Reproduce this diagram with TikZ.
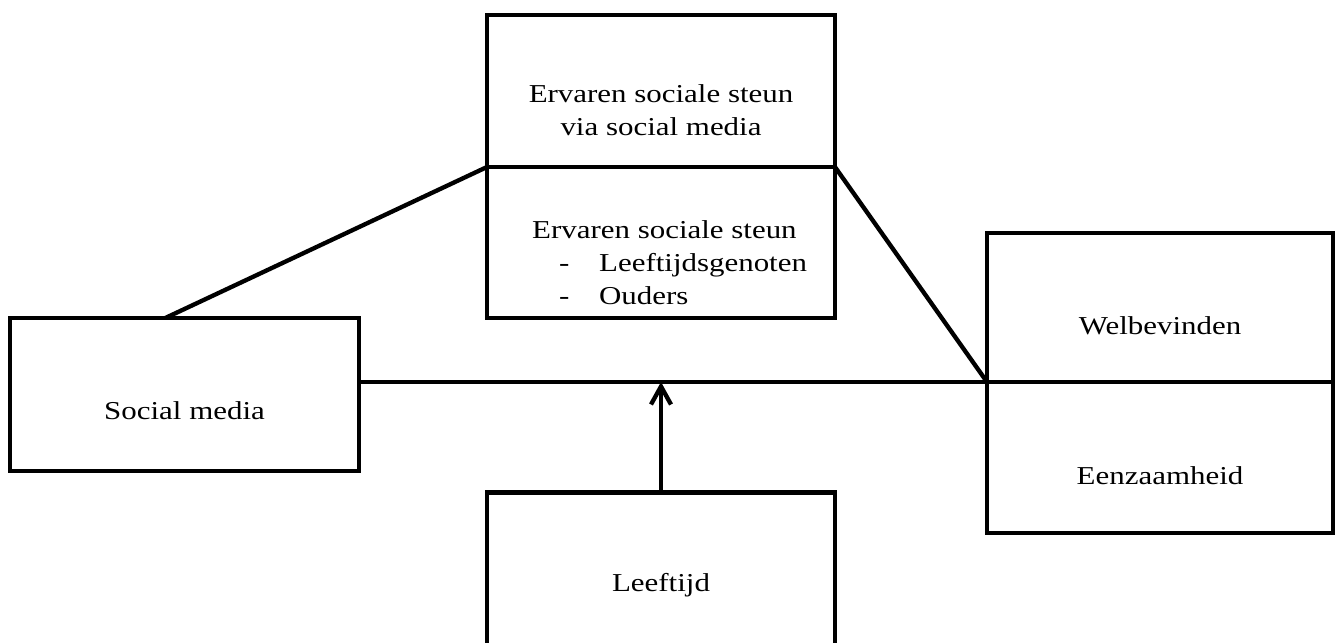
\documentclass[tikz,border=0pt]{standalone}
\usepackage{fontspec}
\setmainfont{Liberation Serif}[FakeStretch=1.2]
\usetikzlibrary{arrows.meta,positioning,calc}

\tikzset{
  vak/.style={draw,rectangle,outer sep=0pt,minimum width=104.4mm,minimum height=45.3mm},
  tekst/.style={font=\fontsize{22}{28.2}\selectfont,inner sep=0pt,yshift=-5.4mm}
}

\begin{document}
\begin{tikzpicture}[x=0.3mm,y=-0.3mm,line width=3.7pt,>={Straight Barb[length=5.4mm,width=6mm]}]
\useasboundingbox (0,0) rectangle (1341,642);
% boxes
\node (ssm) [vak,minimum height=45.6mm] at (661,91) {};
\node (ses) [vak,below=0pt of ssm] {};
\node (sm) [vak,minimum width=104.7mm,minimum height=45.9mm] at (184.5,394.5) {};
\node (wel) [vak,minimum width=103.8mm,minimum height=44.7mm] at (1160,307.5) {};
\node (een) [vak,minimum width=103.8mm,below=0pt of wel] {};
\node (lft) [vak,minimum height=47.1mm] at (661,571) {};
% texts
\node (tssm) [tekst,align=center,yshift=-0.3mm] at (ssm.center) {Ervaren sociale steun\\via social media};
\node (tses) [tekst,align=left,anchor=west,xshift=12.9mm,yshift=-0.6mm] at (ses.west)
  {Ervaren sociale steun\\\hspace*{8.1mm}\makebox[12mm][l]{-}Leeftijdsgenoten\\\hspace*{8.1mm}\makebox[12mm][l]{-}Ouders};
\node (tsm) [tekst,yshift=0.6mm] at (sm.center) {Social media};
\node (twel) [tekst] at (wel.center) {Welbevinden};
\node (teen) [tekst] at (een.center) {Eenzaamheid};
\node (tlft) [tekst,yshift=1.2mm] at (lft.center) {Leeftijd};
% connectors
\draw ($(sm.north west)!0.445!(sm.north east)$) -- (ses.north west);
\draw (ssm.south east) -- (wel.south west);
\draw (sm.east |- wel.south west) -- (wel.south west);
\draw[->] (lft.north) -- (lft.north |- wel.south west);
\end{tikzpicture}
\end{document}
